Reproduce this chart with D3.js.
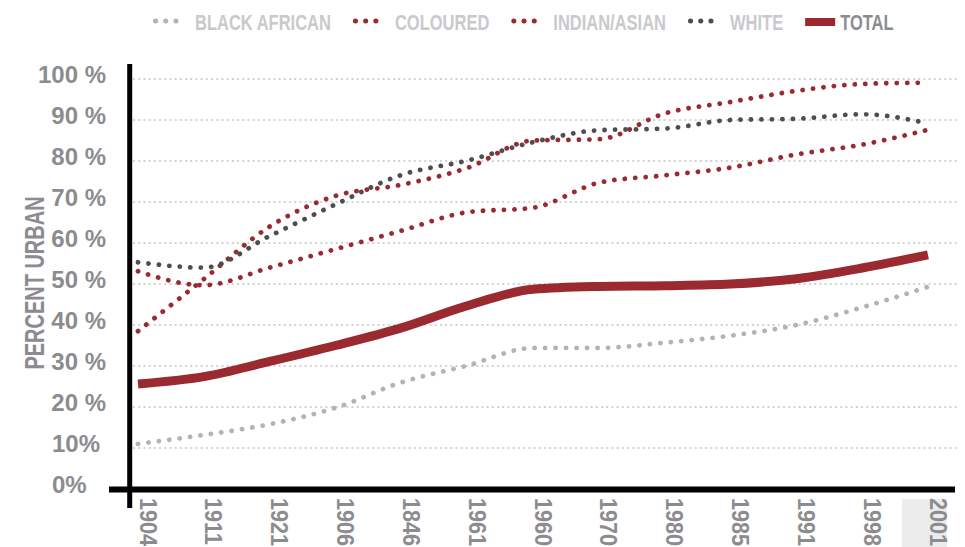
<!DOCTYPE html>
<html>
<head>
<meta charset="utf-8">
<script src="https://cdn.jsdelivr.net/npm/d3@7"></script>
<style>
  html, body { margin: 0; padding: 0; background: #fff; }
  svg { display: block; }
  text { font-family: "Liberation Sans", Arial, "Helvetica", sans-serif; font-weight: bold; }
</style>
</head>
<body>
<svg id="chart" width="965" height="547"></svg>
<script>
// ---- data ----
const categories = ["1904","1911","1921","1906","1846","1961","1960","1970","1980","1985","1991","1998","2001"];
const blackAfrican = [11.0, 13.2, 15.8, 19.8, 26.0, 30.1, 34.4, 34.4, 35.7, 37.4, 40.0, 44.3, 49.3];
const coloured     = [53.1, 49.7, 54.0, 58.5, 63.0, 67.5, 68.6, 74.7, 76.5, 78.4, 81.6, 84.0, 87.6];
const indianAsian  = [38.5, 51.2, 64.0, 71.5, 74.2, 78.3, 85.0, 85.3, 91.6, 94.4, 97.1, 98.8, 99.1];
const white        = [55.3, 54.0, 61.7, 69.4, 76.6, 80.1, 84.6, 87.5, 87.9, 90.0, 90.3, 91.4, 89.2];
const total        = [25.6, 27.4, 31.1, 35.0, 39.3, 44.7, 48.7, 49.4, 49.6, 50.0, 51.3, 53.9, 57.1];
const yTicks       = [0, 10, 20, 30, 40, 50, 60, 70, 80, 90, 100];
const yTickLabels  = ["0%", "10%", "20 %", "30 %", "40 %", "50 %", "60 %", "70 %", "80 %", "90 %", "100 %"];
const seriesNames  = ["BLACK AFRICAN", "COLOURED", "INDIAN/ASIAN", "WHITE", "TOTAL"];
const yTitle = "PERCENT URBAN";

// ---- styles ----
const RED = "#9b2a30", DARK = "#4e4e52", LIGHT = "#b3b3b7", LABEL = "#8c8c90", LEG = "#c9c9cb";
const seriesData = [blackAfrican, coloured, indianAsian, white, total];
const seriesColor = [LIGHT, RED, RED, DARK, RED];

const svg = d3.select("#chart");
const x = d3.scalePoint().domain(categories).range([138, 928]);
const y = d3.scaleLinear().domain([0, 100]).range([489, 79]);

// gridlines
svg.append("g").selectAll("line").data(yTicks.filter(d => d > 0)).join("line")
  .attr("x1", 134).attr("x2", 958)
  .attr("y1", d => y(d)).attr("y2", d => y(d))
  .attr("stroke", "#cdcdcd").attr("stroke-width", 2.2)
  .attr("stroke-linecap", "round").attr("stroke-dasharray", "0.1 5.1");

// y tick labels
svg.append("g").selectAll("text").data(yTicks).join("text")
  .attr("x", (d, i) => yTickLabels[i].includes(" ") ? 106 : 52)
  .attr("text-anchor", (d, i) => yTickLabels[i].includes(" ") ? "end" : "start")
  .attr("y", d => y(d) - 5)
  .attr("dominant-baseline", "central")
  .attr("fill", LABEL).attr("font-size", 24)
  .text((d, i) => yTickLabels[i]);

// y title (condensed)
svg.append("text")
  .attr("transform", "translate(34,283) rotate(-90) scale(0.74,1)")
  .attr("text-anchor", "middle").attr("dominant-baseline", "central")
  .attr("fill", LABEL).attr("font-size", 27)
  .text(yTitle);

// lines
const line = d3.line().x((d, i) => x(categories[i])).y(d => y(d)).curve(d3.curveMonotoneX);
seriesData.forEach((s, k) => {
  if (k === 4) return;
  svg.append("path").datum(s).attr("d", line)
    .attr("fill", "none").attr("stroke", seriesColor[k])
    .attr("stroke-width", 4.8).attr("stroke-linecap", "round")
    .attr("stroke-dasharray", "0.1 10.4");
});
svg.append("path").datum(total).attr("d", line)
  .attr("fill", "none").attr("stroke", RED).attr("stroke-width", 9);

// x labels
const xl = svg.append("g");
const lastX = x(categories[categories.length - 1]) + 10;
xl.append("rect").attr("x", lastX - 36).attr("y", 499).attr("width", 45).attr("height", 48).attr("fill", "#ececec");
xl.selectAll("text").data(categories).join("text")
  .attr("transform", d => `translate(${x(d) + 10},498) rotate(90) scale(0.9,1)`)
  .attr("text-anchor", "start").attr("dominant-baseline", "central")
  .attr("fill", LABEL).attr("font-size", 24)
  .text(d => d);

// axes
svg.append("line").attr("x1", 129.7).attr("x2", 129.7).attr("y1", 64).attr("y2", 508)
  .attr("stroke", "#000").attr("stroke-width", 5);
svg.append("line").attr("x1", 109).attr("x2", 955).attr("y1", 489.5).attr("y2", 489.5)
  .attr("stroke", "#000").attr("stroke-width", 6);

// legend
const leg = svg.append("g");
const LS = 0.75;
let lx = 153;
seriesNames.forEach((name, k) => {
  if (k < 4) {
    leg.append("line").attr("x1", lx + 2.5).attr("x2", lx + 33).attr("y1", 21).attr("y2", 21)
      .attr("stroke", seriesColor[k]).attr("stroke-width", 5).attr("stroke-linecap", "round")
      .attr("stroke-dasharray", "0.1 10.1");
    lx += 42;
  } else {
    leg.append("line").attr("x1", lx).attr("x2", lx + 30).attr("y1", 22).attr("y2", 22)
      .attr("stroke", RED).attr("stroke-width", 8);
    lx += 35;
  }
  const t = leg.append("text").attr("transform", `translate(${lx},22) scale(${LS},1)`)
    .attr("dominant-baseline", "central").attr("font-size", 22)
    .attr("fill", k === 4 ? LABEL : LEG).text(name);
  lx += t.node().getComputedTextLength() * LS + 22;
});
</script>
</body>
</html>
